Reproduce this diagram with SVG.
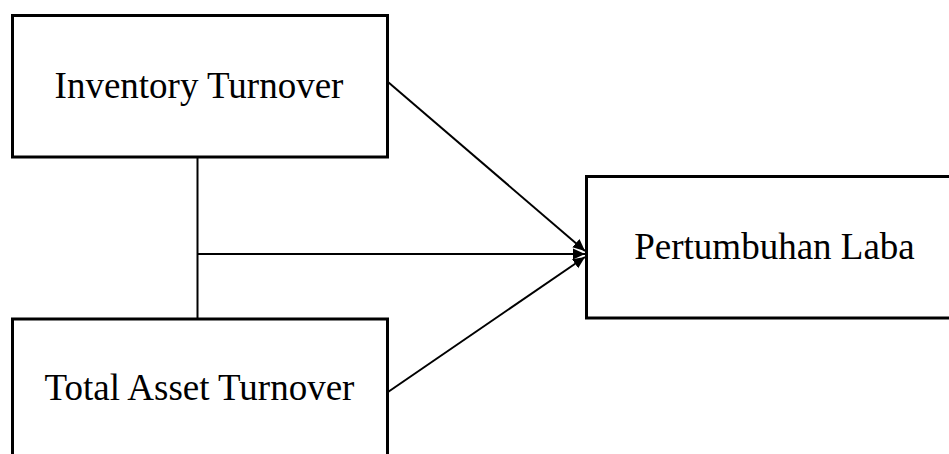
<svg xmlns="http://www.w3.org/2000/svg" width="949" height="454" viewBox="0 0 949 454">
<style>
.box{fill:#fff;stroke:#000;stroke-width:3}
.lbl{font-family:"Liberation Serif","Times New Roman",serif;font-size:37px;fill:#000;text-anchor:middle}
.con{stroke:#000;stroke-width:2;fill:none}
</style>
<defs>
<marker id="arr" viewBox="0 0 12 12" refX="12" refY="6" markerWidth="12" markerHeight="12" markerUnits="userSpaceOnUse" orient="auto">
<path d="M0,0.5 L12,6 L0,11.5 z" fill="#000"/>
</marker>
</defs>
<rect width="949" height="454" fill="#fff"/>
<g id="connectors">
<line class="con" x1="197.5" y1="157" x2="197.5" y2="319"/>
<line class="con" x1="197.5" y1="254" x2="585" y2="254" marker-end="url(#arr)"/>
<line class="con" x1="388" y1="82" x2="585" y2="251" marker-end="url(#arr)"/>
<line class="con" x1="388" y1="392" x2="585" y2="257" marker-end="url(#arr)"/>
</g>
<g id="inventory">
<rect class="box" x="12.5" y="15.5" width="375" height="141.5"/>
<text class="lbl" x="199" y="98">Inventory Turnover</text>
</g>
<g id="total">
<rect class="box" x="12.5" y="319" width="375" height="150"/>
<text class="lbl" x="199.5" y="400">Total Asset Turnover</text>
</g>
<g id="laba">
<rect class="box" x="586.5" y="176.5" width="380" height="141.5"/>
<text class="lbl" x="774.5" y="259">Pertumbuhan Laba</text>
</g>
</svg>
